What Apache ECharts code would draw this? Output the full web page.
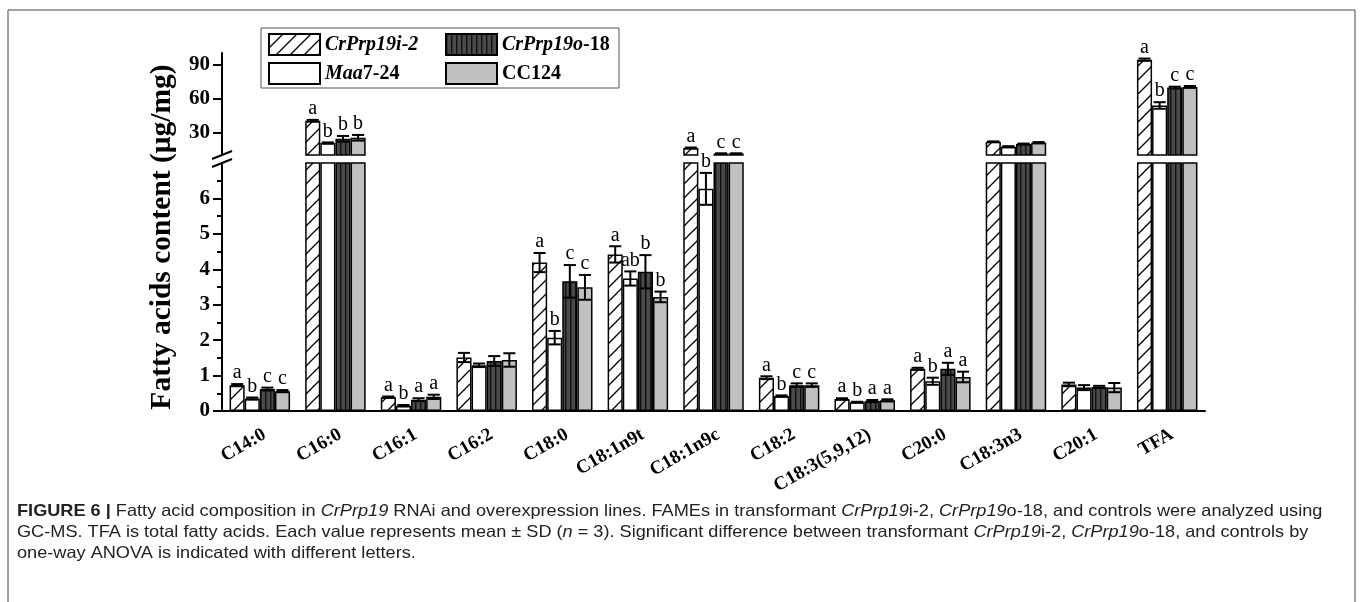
<!DOCTYPE html>
<html><head><meta charset="utf-8">
<script src="https://cdn.jsdelivr.net/npm/echarts@6/dist/echarts.min.js"></script>
<style>html,body{margin:0;padding:0;background:#fff}#c{width:1360px;height:602px}</style>
</head><body><div id="c"></div><script>
const categories = ['C14:0','C16:0','C16:1','C16:2','C18:0','C18:1n9t','C18:1n9c','C18:2','C18:3(5,9,12)','C20:0','C18:3n3','C20:1','TFA'];
const seriesNames = ['CrPrp19i-2','Maa7-24','CrPrp19o-18','CC124'];
const valI2  = [0.73, 40.2, 0.39, 1.51, 4.19, 4.42, 16.2, 0.94, 0.34, 1.19, 21.7, 0.75, 94.1];
const valMaa = [0.35, 20.6, 0.15, 1.29, 2.07, 3.74, 6.27, 0.42, 0.25, 0.84, 17.3, 0.66, 53.7];
const valO18 = [0.62, 24.3, 0.32, 1.41, 3.66, 3.93, 11.2, 0.73, 0.28, 1.19, 19.7, 0.68, 69.5];
const valCC  = [0.56, 25.2, 0.40, 1.44, 3.49, 3.22, 11.2, 0.73, 0.30, 0.96, 20.9, 0.66, 70.1];
const sdI2  = [0.03, 0.8, 0.02, 0.13, 0.27, 0.23, 0.4, 0.04, 0.02, 0.03, 0.3, 0.05, 1.0];
const sdMaa = [0.03, 0.5, 0.02, 0.05, 0.19, 0.20, 0.45, 0.02, 0.01, 0.10, 0.5, 0.07, 2.9];
const sdO18 = [0.04, 2.5, 0.04, 0.14, 0.46, 0.47, 0.3, 0.05, 0.03, 0.17, 0.4, 0.03, 0.8];
const sdCC  = [0.03, 2.5, 0.06, 0.19, 0.35, 0.15, 0.3, 0.05, 0.03, 0.15, 0.5, 0.13, 0.8];
const letI2  = ['a','a','a','','a','a','a','a','a','a','','','a'];
const letMaa = ['b','b','b','','b','ab','b','b','b','b','','','b'];
const letO18 = ['c','b','a','','c','b','c','c','a','a','','','c'];
const letCC  = ['c','b','a','','c','b','c','c','a','a','','','c'];
const upperTicks = [30, 60, 90];
const lowerTicks = [0, 1, 2, 3, 4, 5, 6];
const yTitle = 'Fatty acids content (\u03bcg/mg)';
const captionLines = [
  '{b|FIGURE 6 |} Fatty acid composition in {i|CrPrp19} RNAi and overexpression lines. FAMEs in transformant {i|CrPrp19}i-2, {i|CrPrp19}o-18, and controls were analyzed using',
  'GC-MS. TFA is total fatty acids. Each value represents mean \u00b1 SD ({i|n} = 3). Significant difference between transformant {i|CrPrp19}i-2, {i|CrPrp19}o-18, and controls by',
  'one-way ANOVA is indicated with different letters.'
];

const values = [valI2, valMaa, valO18, valCC];
const sds = [sdI2, sdMaa, sdO18, sdCC];
const letters = [letI2, letMaa, letO18, letCC];

const SERIF = '"Liberation Serif","Times New Roman",serif';
const SANS = '"Liberation Sans",Arial,sans-serif';

function hatchPattern() {
  const s = 14, c = document.createElement('canvas'); c.width = s; c.height = s;
  const g = c.getContext('2d');
  g.fillStyle = '#fff'; g.fillRect(0, 0, s, s);
  g.strokeStyle = '#000'; g.lineWidth = 1.3; g.beginPath();
  g.moveTo(0, s); g.lineTo(s, 0);
  g.moveTo(-2, 2); g.lineTo(2, -2);
  g.moveTo(s - 2, s + 2); g.lineTo(s + 2, s - 2);
  g.stroke();
  return { image: c, repeat: 'repeat' };
}
function stripePattern() {
  const c = document.createElement('canvas'); c.width = 5; c.height = 4;
  const g = c.getContext('2d');
  g.fillStyle = '#4a4a4a'; g.fillRect(0, 0, 5, 4);
  g.fillStyle = '#111'; g.fillRect(0, 0, 1.4, 4);
  return { image: c, repeat: 'repeat' };
}
const fills = [hatchPattern(), '#ffffff', stripePattern(), '#c0c0c0'];

// layout
const L = 222, R = 155, UT = 53, UH = 102, LT = 163, LH = 248;

const chart = echarts.init(document.getElementById('c'), null, { renderer: 'canvas' });

const series = [];
[0, 1].forEach(gi => {
  seriesNames.forEach((nm, k) => {
    series.push({
      type: 'bar', name: nm, xAxisIndex: gi === 0 ? 0 : 1, yAxisIndex: gi,
      data: values[k], barWidth: '20%', barGap: '0%', clip: true,
      itemStyle: { color: fills[k], borderColor: '#000', borderWidth: 1.5 },
      emphasis: { disabled: true }, z: 2
    });
  });
});
function errSeries(k, gi, lo, hi) {
  return {
    type: 'custom', xAxisIndex: gi === 0 ? 0 : 1, yAxisIndex: gi, z: 5,
    data: categories.map((c, i) => [i, values[k][i], sds[k][i]]),
    renderItem: (params, api) => {
      const i = api.value(0), v = api.value(1), sd = api.value(2);
      if (v < lo || v > hi) return null;
      const band = api.size([1, 0])[0];
      const w = band * 0.2;
      const cx = api.coord([i, v])[0] + (k - 1.5) * w;
      const yt = api.coord([i, v + sd])[1];
      const yb = api.coord([i, v - sd])[1];
      const hw = w * 0.4;
      const ls = { stroke: '#000', lineWidth: 2 };
      const ch = [
        { type: 'line', shape: { x1: cx, y1: yt, x2: cx, y2: yb }, style: ls },
        { type: 'line', shape: { x1: cx - hw, y1: yt, x2: cx + hw, y2: yt }, style: ls },
        { type: 'line', shape: { x1: cx - hw, y1: yb, x2: cx + hw, y2: yb }, style: ls }
      ];
      const t = letters[k][params.dataIndex];
      if (t) ch.push({ type: 'text', style: { text: t, x: cx, y: yt - 1, align: 'center', verticalAlign: 'bottom', font: '20px ' + SERIF, fill: '#000' } });
      return { type: 'group', children: ch };
    }
  };
}
[0, 1, 2, 3].forEach(k => { series.push(errSeries(k, 0, 10, 100)); series.push(errSeries(k, 1, 0, 7)); });

const legRich = {
  i: { fontFamily: SERIF, fontSize: 20, fontWeight: 'bold', fontStyle: 'italic', color: '#000' },
  n: { fontFamily: SERIF, fontSize: 20, fontWeight: 'bold', color: '#000' }
};
const legFmt = {
  'CrPrp19i-2': '{i|CrPrp19i-2}',
  'CrPrp19o-18': '{i|CrPrp19o}{n|-18}',
  'Maa7-24': '{i|Maa}{n|7-24}',
  'CC124': '{n|CC124}'
};
const legPos = [[268, 33], [268, 62], [445, 33], [445, 62]];
const legends = seriesNames.map((nm, k) => ({
  data: [nm], left: legPos[k][0], top: legPos[k][1], padding: 0, itemWidth: 51, itemHeight: 21,
  icon: 'rect', selectedMode: false, formatter: n => legFmt[n],
  textStyle: { rich: legRich, fontFamily: SERIF, fontSize: 20 }
}));

const axisLineStyle = { color: '#000', width: 2 };
const yLabel = { color: '#000', fontFamily: SERIF, fontWeight: 'bold', fontSize: 21, margin: 12 };

const upperBreakY = UT + UH, lowerBreakY = LT;
const graphics = [
  { type: 'rect', shape: { x: 8, y: 10, width: 1347, height: 620 }, style: { fill: 'none', stroke: '#444', lineWidth: 1 }, silent: true },
  { type: 'rect', shape: { x: 261, y: 28, width: 358, height: 60 }, style: { fill: 'none', stroke: '#555', lineWidth: 1 }, silent: true },
  { type: 'text', x: 162, y: 237, rotation: Math.PI / 2, style: { text: yTitle, align: 'center', verticalAlign: 'middle', font: 'bold 29.5px ' + SERIF, fill: '#000' } },
  { type: 'line', shape: { x1: L - 10, y1: upperBreakY + 4, x2: L + 10, y2: upperBreakY - 4 }, style: { stroke: '#000', lineWidth: 2 } },
  { type: 'line', shape: { x1: L - 10, y1: lowerBreakY + 4, x2: L + 10, y2: lowerBreakY - 4 }, style: { stroke: '#000', lineWidth: 2 } }
];
captionLines.forEach((t, j) => {
  graphics.push({ type: 'text', x: 17, y: 511 + j * 21, scaleX: 1.1, style: {
    text: t, x: 0, y: 0, align: 'left', verticalAlign: 'middle', font: '16.5px ' + SANS, fill: '#222',
    rich: {
      b: { fontFamily: SANS, fontSize: 16.5, fontWeight: 'bold', fill: '#222' },
      i: { fontFamily: SANS, fontSize: 16.5, fontStyle: 'italic', fill: '#222' }
    }
  } });
});

chart.setOption({
  animation: false,
  backgroundColor: '#fff',
  legend: legends,
  grid: [
    { left: L, right: R, top: UT, height: UH },
    { left: L, right: R, top: LT, height: LH }
  ],
  xAxis: [
    { type: 'category', data: categories, gridIndex: 0, show: false },
    { type: 'category', data: categories, gridIndex: 1, position: 'bottom',
      axisLine: { lineStyle: axisLineStyle },
      axisTick: { alignWithLabel: true, length: 10, lineStyle: { color: '#000', width: 2 } },
      axisLabel: { interval: 0, rotate: 30, margin: 14, align: 'right', verticalAlign: 'top', color: '#000', fontFamily: SERIF, fontWeight: 'bold', fontSize: 19 } },
    { type: 'category', data: categories, gridIndex: 1, position: 'bottom',
      axisLine: { show: false }, axisLabel: { show: false },
      axisTick: { length: 5, lineStyle: { color: '#000', width: 2 } } }
  ],
  yAxis: [
    { type: 'value', gridIndex: 0, min: 10, max: 100, splitLine: { show: false },
      axisLine: { show: true, lineStyle: axisLineStyle },
      axisTick: { show: true, length: 9, customValues: upperTicks, lineStyle: { color: '#000', width: 2 } },
      axisLabel: Object.assign({ customValues: upperTicks }, yLabel) },
    { type: 'value', gridIndex: 1, min: 0, max: 7, interval: 1, splitLine: { show: false },
      axisLine: { show: true, lineStyle: axisLineStyle },
      axisTick: { show: true, length: 9, customValues: lowerTicks, lineStyle: { color: '#000', width: 2 } },
      minorTick: { show: true, splitNumber: 2, length: 5, lineStyle: { color: '#000', width: 2 } },
      axisLabel: Object.assign({ customValues: lowerTicks }, yLabel) }
  ],
  graphic: graphics,
  series: series
});
</script></body></html>
